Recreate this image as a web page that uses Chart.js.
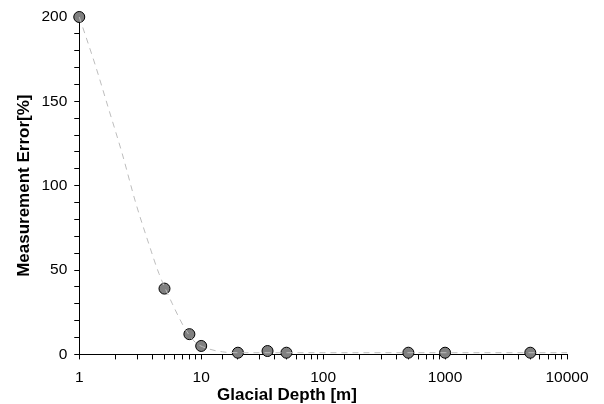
<!DOCTYPE html>
<html>
<head>
<meta charset="utf-8">
<script src="https://cdn.jsdelivr.net/npm/chart.js@4/dist/chart.umd.min.js"></script>
<style>
  body { margin: 0; background: #fff; }
  #wrap { width: 604px; height: 404px; }
</style>
</head>
<body>
<div id="wrap"><canvas id="chart"></canvas></div>
<script>
// measured points
const depths = [1, 5, 8, 10, 20, 35, 50, 500, 1000, 5000];
const errors = [200, 39, 12, 5, 1, 2, 1, 1, 1, 1];

// dashed trend curve
const fitDepths = [1, 1.36, 1.75, 2.25, 2.9, 3.7, 4.5, 5.8, 7.4, 9, 11.4, 15, 20, 50, 100, 1000, 10000];
const fitErrors = [200, 171, 145, 119, 90, 66, 48, 30, 15, 7, 3.4, 1.5, 1, 1, 1, 1, 1];

const xTickLabels = [1, 10, 100, 1000, 10000];
const yTickLabels = [0, 50, 100, 150, 200];

const xTitle = "Glacial Depth [m]";
const yTitle = "Measurement Error[%]";

Chart.defaults.font.family = "'Liberation Sans', Arial, sans-serif";
Chart.defaults.color = "#000";

// x title sits left of the plot centre in the original, so draw it by hand
const xTitlePlugin = {
  id: "xTitle",
  afterDraw(chart) {
    const ctx = chart.ctx;
    ctx.save();
    ctx.font = "bold 17px 'Liberation Sans', Arial, sans-serif";
    ctx.fillStyle = "#000";
    ctx.textAlign = "center";
    ctx.textBaseline = "middle";
    ctx.fillText(xTitle, 287, 395);
    ctx.restore();
  }
};

new Chart(document.getElementById("chart"), {
  type: "scatter",
  data: {
    datasets: [
      {
        label: "fit",
        data: fitDepths.map((x, i) => ({ x: x, y: fitErrors[i] })),
        showLine: true,
        borderColor: "#bdbdbd",
        borderWidth: 1,
        borderDash: [6, 5],
        pointRadius: 0,
        cubicInterpolationMode: "monotone",
        clip: false
      },
      {
        label: "data",
        data: depths.map((x, i) => ({ x: x, y: errors[i] })),
        backgroundColor: "#808080",
        borderColor: "#000",
        borderWidth: 1,
        pointRadius: 5.5,
        clip: false
      }
    ]
  },
  options: {
    responsive: true,
    maintainAspectRatio: false,
    animation: false,
    layout: { padding: { left: 14, right: 37, top: 17, bottom: 8 } },
    plugins: { legend: { display: false }, tooltip: { enabled: false } },
    scales: {
      x: {
        type: "logarithmic",
        min: 1,
        max: 10000,
        border: { color: "#000", width: 1 },
        grid: { drawOnChartArea: false, color: "#000", tickLength: 5 },
        ticks: {
          autoSkip: false,
          maxRotation: 0,
          padding: 9,
          font: { size: 15.5 },
          callback: (v) => (xTickLabels.includes(v) ? String(v) : "")
        }
      },
      y: {
        min: 0,
        max: 200,
        border: { color: "#000", width: 1 },
        grid: { drawOnChartArea: false, color: "#000", tickLength: 5 },
        ticks: {
          stepSize: 10,
          autoSkip: false,
          padding: 7,
          font: { size: 15.5 },
          callback: (v) => (yTickLabels.includes(v) ? String(v) : "")
        },
        title: {
          display: true,
          text: yTitle,
          font: { size: 17, weight: "bold" },
          padding: { top: 0, bottom: 0 }
        }
      }
    }
  },
  plugins: [xTitlePlugin]
});
</script>
</body>
</html>
